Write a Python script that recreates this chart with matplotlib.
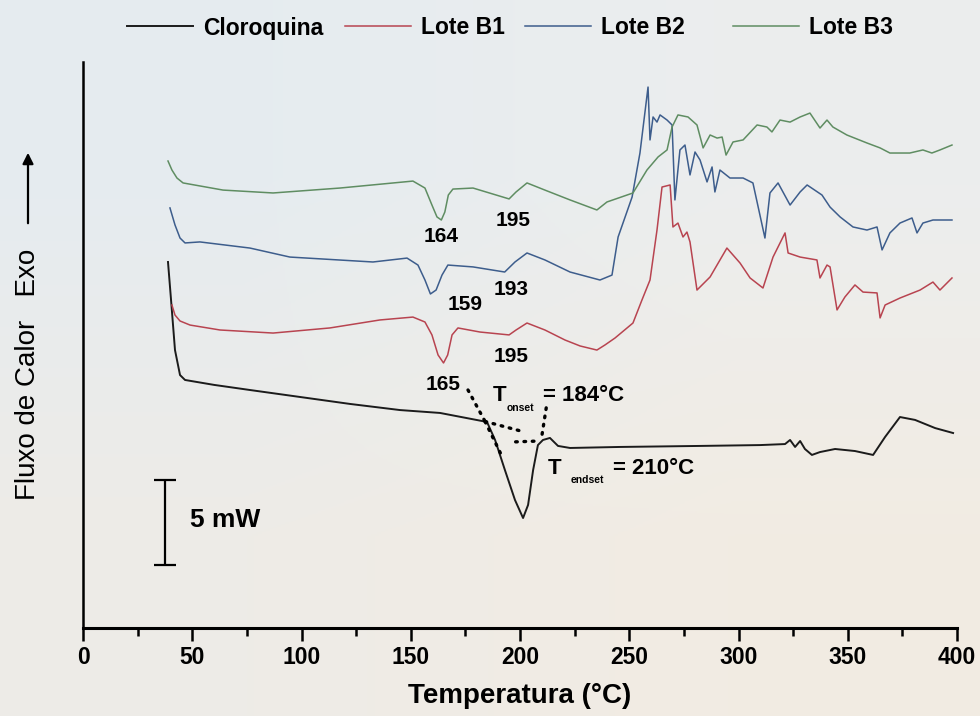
import numpy as np
import matplotlib.pyplot as plt

plt.rcParams['font.family'] = ['Liberation Sans', 'DejaVu Sans']

# DSC curves: temperature (degC) and heat flow (mW, curves stacked with offsets)
cloroquina_t = [38.9, 40.3, 42.1, 44.4, 46.7, 60.0, 76.4, 99.3, 122.2, 145.1, 163.4, 184.9,
                188.6, 193.1, 197.7, 201.4, 203.7, 206.0, 208.2, 210.5, 213.7, 217.4,
                222.9, 245.8, 282.4, 309.8, 321.3, 323.6, 325.9, 328.2, 330.4, 333.6,
                337.3, 344.2, 353.3, 361.6, 367.1, 373.9, 380.8, 390.0, 398.2]
cloroquina_q = [21.53, 19.29, 16.35, 14.88, 14.59, 14.3, 14.0, 13.59, 13.18, 12.82, 12.65, 12.12,
                11.06, 9.29, 7.53, 6.47, 7.24, 9.29, 10.76, 11.06, 11.18, 10.71,
                10.59, 10.65, 10.71, 10.76, 10.82, 11.06, 10.65, 11.0, 10.53, 10.18,
                10.35, 10.53, 10.41, 10.18, 11.24, 12.41, 12.24, 11.76, 11.47]

lote_b1_t = [40.7, 42.1, 44.4, 49.0, 62.7, 87.0, 113.0, 135.9, 151.0, 156.5, 159.7,
             162.5, 165.0, 166.9, 168.9, 171.6, 181.7, 195.0, 198.2, 203.2, 211.4,
             220.6, 227.5, 235.2, 238.9, 243.5, 251.7, 255.8, 259.5, 262.7, 265.0,
             268.7, 270.0, 272.3, 274.6, 276.4, 277.8, 281.0, 287.0, 294.7, 300.7,
             305.3, 311.2, 315.8, 321.3, 322.7, 328.2, 335.9, 337.3, 340.5, 341.9,
             345.1, 348.7, 353.3, 357.0, 363.4, 364.8, 367.1, 373.9, 383.1, 389.0,
             392.2, 397.7]
lote_b1_q = [19.0, 18.41, 18.06, 17.82, 17.53, 17.35, 17.65, 18.12, 18.29, 18.0, 17.24,
             16.06, 15.59, 16.06, 17.24, 17.65, 17.41, 17.24, 17.53, 17.94, 17.53,
             16.94, 16.59, 16.35, 16.65, 17.06, 17.94, 19.29, 20.47, 23.41, 25.94,
             26.06, 23.59, 23.82, 23.0, 23.29, 22.71, 19.88, 20.65, 22.35, 21.47,
             20.59, 20.0, 21.82, 23.24, 22.06, 21.82, 21.65, 20.59, 21.35, 21.24,
             18.71, 19.47, 20.18, 19.76, 19.71, 18.24, 19.0, 19.41, 19.88, 20.35,
             19.88, 20.59]

lote_b2_t = [39.8, 42.1, 44.4, 46.7, 53.5, 76.4, 94.7, 132.7, 148.3, 153.3, 156.5,
             159.0, 161.6, 164.3, 167.0, 178.5, 193.0, 197.7, 203.2, 211.4, 222.9,
             236.6, 242.1, 244.9, 251.3, 254.9, 258.6, 259.5, 260.9, 262.7, 264.1,
             267.3, 269.6, 270.9, 273.2, 275.5, 277.8, 280.1, 282.4, 285.6, 287.9,
             289.2, 291.5, 296.1, 302.1, 306.6, 312.1, 314.4, 318.1, 323.6, 328.2,
             331.4, 338.2, 341.9, 346.5, 352.4, 358.8, 363.4, 365.7, 369.3, 373.9,
             379.4, 381.7, 384.4, 389.0, 397.7]
lote_b2_q = [24.71, 23.71, 22.94, 22.65, 22.71, 22.35, 21.82, 21.53, 21.76, 21.35, 20.47,
             19.65, 19.88, 20.76, 21.35, 21.24, 20.94, 21.53, 22.06, 21.65, 20.94,
             20.47, 20.76, 23.0, 25.35, 27.94, 31.82, 28.71, 30.06, 29.76, 30.18,
             29.88, 29.59, 25.18, 28.12, 28.41, 26.65, 28.0, 27.53, 26.24, 27.12,
             25.65, 26.94, 26.47, 26.47, 26.18, 22.94, 25.59, 26.18, 24.88, 25.65,
             26.06, 25.47, 24.76, 24.18, 23.59, 23.41, 23.59, 22.24, 23.24, 23.82,
             24.12, 23.24, 23.82, 24.0, 24.0]

lote_b3_t = [38.9, 40.7, 43.0, 45.8, 64.1, 87.0, 117.6, 151.0, 156.5, 159.7, 162.0,
             164.0, 165.6, 167.2, 169.3, 178.5, 195.0, 198.2, 203.2, 211.4, 222.9,
             235.2, 239.8, 251.7, 258.1, 263.2, 267.3, 269.6, 272.3, 276.9, 281.0,
             283.8, 287.0, 290.2, 292.5, 294.3, 297.5, 302.1, 308.5, 313.0, 315.3,
             319.0, 323.6, 328.2, 332.7, 337.3, 340.5, 343.2, 349.6, 358.8, 364.8,
             369.3, 378.4, 384.4, 388.5, 392.2, 397.7]
lote_b3_q = [27.47, 26.94, 26.47, 26.18, 25.76, 25.59, 25.88, 26.29, 25.88, 24.88, 24.18,
             24.0, 24.47, 25.47, 25.82, 25.88, 25.24, 25.65, 26.18, 25.76, 25.18,
             24.59, 25.06, 25.59, 26.94, 27.71, 28.12, 29.47, 30.18, 30.06, 29.59,
             28.24, 29.0, 28.82, 28.88, 27.82, 28.59, 28.71, 29.59, 29.47, 29.18,
             29.88, 29.76, 30.06, 30.29, 29.41, 29.88, 29.47, 29.0, 28.53, 28.24,
             27.94, 27.94, 28.12, 27.94, 28.12, 28.41]

names = ["Cloroquina", "Lote B1", "Lote B2", "Lote B3"]
colors = ["#1b1b1b", "#b84450", "#3d5d8c", "#5f8d62"]
legend_x = [127, 345, 525, 733]

# endothermic peak temperatures written on the curves
peak_temps = [164, 195, 159, 193, 195, 165]
label_dx = [0, 2, 16, 3, 1, 0]
label_q = [23.0, 24.0, 19.0, 19.9, 16.0, 14.3]

T_ON = 184
T_END = 210

fig = plt.figure(figsize=(9.8, 7.16), dpi=100)

# paper-like background
bg = fig.add_axes([0, 0, 1, 1], zorder=-10)
paper = np.array([[[0.900, 0.925, 0.941], [0.925, 0.933, 0.933]],
                  [[0.933, 0.925, 0.906], [0.949, 0.925, 0.890]]])
bg.imshow(paper, extent=(0, 1, 0, 1), aspect='auto', interpolation='bilinear')
bg.axis('off')

ax = fig.add_axes([83 / 980, 88 / 716, 874 / 980, 566 / 716])
ax.patch.set_alpha(0)

series = [(cloroquina_t, cloroquina_q), (lote_b1_t, lote_b1_q),
          (lote_b2_t, lote_b2_q), (lote_b3_t, lote_b3_q)]
handles = []
for (t, q), name, c in zip(series, names, colors):
    lw = 1.4 if name == "Cloroquina" else 1.1
    h, = ax.plot(t, q, color=c, lw=lw, label=name)
    handles.append(h)

for temp, dx, q in zip(peak_temps, label_dx, label_q):
    ax.text(temp + dx, q, f"{temp}", ha='center', va='center',
            fontsize=15, fontweight='bold')

# onset / endset construction lines
dot = dict(color='k', lw=2.4, linestyle=(0, (0.5, 2.0)), dash_capstyle='round')
ax.plot([176.2, T_ON], [14.0, 12.15], **dot)
ax.plot([T_ON, T_ON + 16], [12.15, 11.6], **dot)
ax.plot([T_ON, T_ON + 7], [12.15, 10.3], **dot)
ax.plot([T_END - 12, T_END - 1], [10.95, 11.0], **dot)
ax.plot([T_END + 2, T_END], [12.95, 11.3], **dot)

ax.text(187.6, 13.7, "T", ha='left', va='center', fontsize=16, fontweight='bold')
ax.text(200.0, 12.95, "onset", ha='center', va='center', fontsize=7.5, fontweight='bold')
ax.text(210.5, 13.7, f"= {T_ON}°C", ha='left', va='center', fontsize=16, fontweight='bold')
ax.text(212.8, 9.4, "T", ha='left', va='center', fontsize=16, fontweight='bold')
ax.text(230.7, 8.7, "endset", ha='center', va='center', fontsize=7.5, fontweight='bold')
ax.text(242.6, 9.4, f"= {T_END}°C", ha='left', va='center', fontsize=16, fontweight='bold')

# 5 mW scale bar
ax.errorbar([37.5], [6.2], yerr=[2.5], color='k', lw=1.6, capsize=8, capthick=1.6)
ax.text(49, 6.35, "5 mW", ha='left', va='center', fontsize=19, fontweight='bold')

ax.set_xlim(0, 400)
ax.set_ylim(0, 566 / 17)
ax.set_xticks(range(0, 401, 50))
ax.set_xticks(range(0, 401, 25), minor=True)
ax.set_yticks([])
ax.tick_params(axis='x', which='major', direction='out', length=9, width=1.8,
               labelsize=16.5, pad=4)
ax.tick_params(axis='x', which='minor', direction='out', length=6, width=1.8)
for lbl in ax.get_xticklabels():
    lbl.set_fontweight('bold')
for s in ['top', 'right']:
    ax.spines[s].set_visible(False)
ax.spines['left'].set_linewidth(1.8)
ax.spines['bottom'].set_linewidth(2.2)

ax.set_xlabel("Temperatura (°C)", fontsize=20, fontweight='bold', labelpad=10)

fig.text(28 / 980, 1 - 500 / 716, "Fluxo de Calor   Exo", rotation=90,
         ha='center', va='bottom', fontsize=20)
ax.annotate('', xy=(28 / 980, 1 - 150 / 716), xytext=(28 / 980, 1 - 226 / 716),
            xycoords='figure fraction', textcoords='figure fraction',
            arrowprops=dict(arrowstyle='-|>', lw=1.6, color='k', mutation_scale=16))

# one legend entry per series, laid out across the top
for h, name, x in zip(handles, names, legend_x):
    fig.legend([h], [name], loc='center left', bbox_to_anchor=(x / 980, 1 - 28 / 716),
               frameon=False, prop=dict(weight='bold', size=16.5), handlelength=2.9,
               handletextpad=0.4, borderpad=0, borderaxespad=0)

fig.savefig("out.png", dpi=100)
